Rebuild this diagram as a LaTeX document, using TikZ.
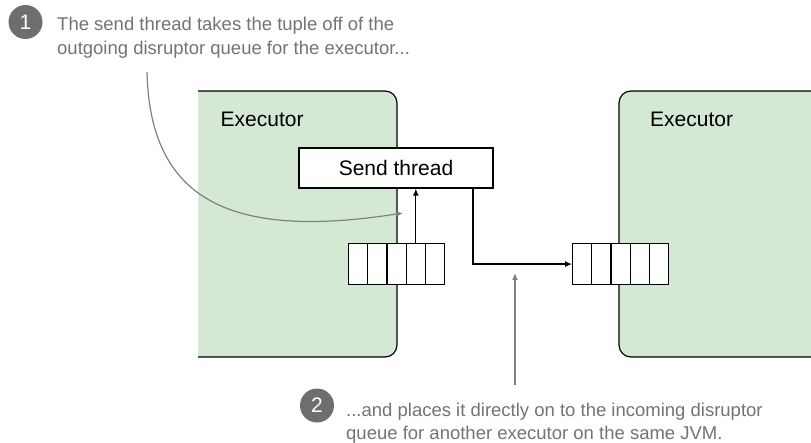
\documentclass[tikz,border=0pt]{standalone}
\usepackage{fontspec}
\setmainfont{Liberation Sans}
\usetikzlibrary{arrows.meta,calc}
\definecolor{exgreen}{HTML}{D5E8D4}
\definecolor{notegray}{HTML}{737373}
\definecolor{circgray}{HTML}{6E6E6E}
\definecolor{arrgray}{HTML}{808080}
\begin{document}
\begin{tikzpicture}[x=1pt,y=-1pt,
  exlabel/.style={anchor=base west,inner sep=0pt,font=\fontsize{21}{25}\selectfont},
  cell/.style={draw=black,line width=1.2pt,fill=white,minimum width=19.2pt,minimum height=41pt,inner sep=0pt,anchor=north west},
  sendbox/.style={draw=black,line width=1.2pt,fill=white,minimum width=194pt,minimum height=40pt,inner sep=0pt,font=\fontsize{21}{25}\selectfont},
  numcirc/.style={circle,fill=circgray,text=white,minimum size=34pt,inner sep=0pt,font=\fontsize{21}{22}\selectfont},
  note/.style={anchor=base west,inner sep=0pt,align=left,text=notegray},
  blackarrow/.style={draw=black,line width=1.2pt,-{Latex[length=7pt,width=6pt]}},
  grayarrow/.style={draw=arrgray,line width=1.2pt,-{Latex[length=7pt,width=6pt]}}
]
\useasboundingbox (0,0) rectangle (811,443);
% executors
\fill[exgreen,rounded corners=12pt] (198,91) -- (397,91) -- (397,357) -- (198,357) -- cycle;
\fill[exgreen] (198,91) rectangle (220,357);
\draw[line width=1.2pt,rounded corners=12pt] (198,91) -- (397,91) -- (397,357) -- (198,357);
\fill[exgreen,rounded corners=12pt] (811,91) -- (619,91) -- (619,357) -- (811,357) -- cycle;
\fill[exgreen] (790,91) rectangle (811,357);
\draw[line width=1.2pt,rounded corners=12pt] (811,91) -- (619,91) -- (619,357) -- (811,357);
\node[exlabel] (exL) at (220.5,127) {Executor};
\node[exlabel] (exR) at (650,127) {Executor};
% send thread
\node[sendbox] (send) at (396,168) {Send thread};
% queues
\foreach \i in {1,...,5} {
  \node[cell] (lq\i) at ({348+(\i-1)*19.2},243) {};
  \node[cell] (rq\i) at ({572+(\i-1)*19.2},243) {};
}
% arrows
\draw[blackarrow] (lq4.north) -- (lq4.north |- send.south);
\draw[blackarrow] (send.south -| 473,0) |- (rq1.west);
\coordinate (g2start) at (515,385);
\coordinate (g2end) at (515,273);
\draw[grayarrow] (g2start) -- (g2end);
\coordinate (g1start) at (147,72);
\coordinate (g1end) at (403,213);
\draw[grayarrow] (g1start) .. controls (150,200) and (230,240) .. (g1end);
% notes
\node[numcirc] (c1) at (25.5,22) {1};
\node[note,font=\fontsize{18.5}{24.5}\selectfont] (n1) at (57,55) {The send thread takes the tuple off of the\\outgoing disruptor queue for the executor...};
\node[numcirc] (c2) at (317,405.5) {2};
\node[note,font=\fontsize{18.5}{23.5}\selectfont] (n2) at (346,439.5) {...and places it directly on to the incoming disruptor\\queue for another executor on the same JVM.};
\end{tikzpicture}
\end{document}
